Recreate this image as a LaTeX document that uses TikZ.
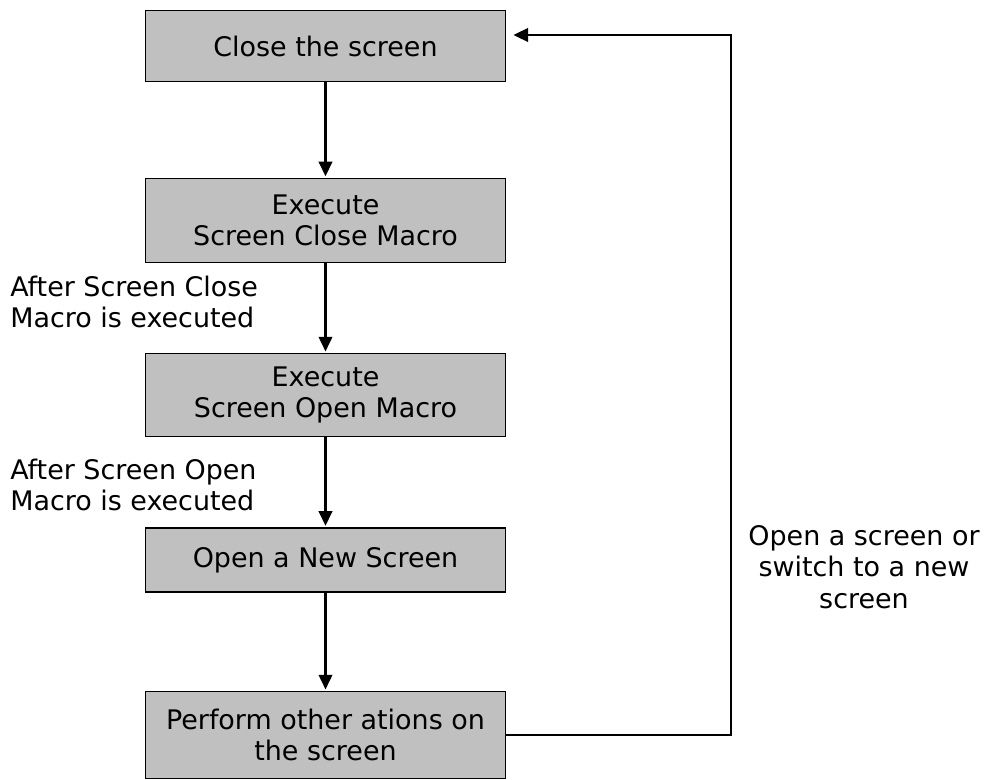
\documentclass[tikz,border=0pt]{standalone}
\usepackage{fontspec}
\setmainfont{DejaVu Sans}
\definecolor{flowGray}{HTML}{C0C0C0}
\usetikzlibrary{arrows.meta, positioning}

\begin{document}
\begin{tikzpicture}[
    x=0.75pt, y=-0.75pt,
    box/.style={
      draw=black,
      fill=flowGray,
      line width=1.2pt,
      minimum width=270pt,
      align=center,
      inner sep=2pt,
      font=\fontsize{20.2pt}{23.5pt}\selectfont,
    },
    note/.style={inner sep=0pt, font=\fontsize{20.2pt}{23.5pt}\selectfont},
    arr/.style={-{Triangle[length=11pt, width=10pt]}, line width=1.9pt, shorten >=1pt},
  ]
    \useasboundingbox (0,0) rectangle (997,780);

    % Steps
    \node[box, minimum height=53pt] (close) at (325.5,46) {Close the screen};
    \node[box, minimum height=63pt] (closemacro) at (325.5,220.5) {Execute\\Screen Close Macro};
    \node[box, minimum height=62pt] (openmacro) at (325.5,395) {Execute\\Screen Open Macro};
    \node[box, minimum height=48pt] (newscreen) at (325.5,560) {Open a New Screen};
    \node[box, minimum height=65pt] (other) at (325.5,735) {Perform other ations on\\the screen};

    % Labels
    \node[note, anchor=west, align=left] (afterclose) at (10,302) {After Screen Close\\Macro is executed};
    \node[note, anchor=west, align=left] (afteropen) at (10,485) {After Screen Open\\Macro is executed};
    \node[note, align=center] (switchnote) at (864,567) {Open a screen or\\switch to a new\\screen};

    % Flow
    \draw[arr] (close) -- (closemacro);
    \draw[arr] (closemacro) -- (openmacro);
    \draw[arr] (openmacro) -- (newscreen);
    \draw[arr] (newscreen) -- (other);

    % Loop back
    \coordinate (corner) at (731,35);
    \coordinate (back) at (512,35);
    \draw[arr] (other.east) -| (corner) -- (back);
  \end{tikzpicture}
\end{document}
